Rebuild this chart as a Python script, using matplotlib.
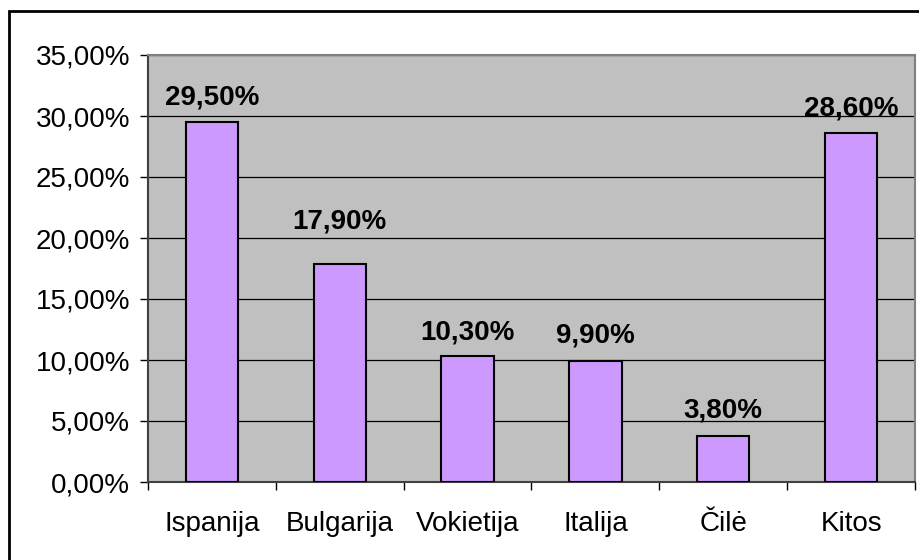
import matplotlib
matplotlib.use("Agg")
import matplotlib.pyplot as plt
from matplotlib.patches import Rectangle
from matplotlib.ticker import FuncFormatter, FixedLocator
import numpy as np

countries = ["Ispanija", "Bulgarija", "Vokietija", "Italija", "Čilė", "Kitos"]
shares = [29.5, 17.9, 10.3, 9.9, 3.8, 28.6]
y_ticks = [0, 5, 10, 15, 20, 25, 30, 35]

plt.rcParams['font.family'] = ['Liberation Sans', 'DejaVu Sans']

fig = plt.figure(figsize=(9.2, 5.6), dpi=100)
ax = fig.add_axes([148 / 920, 1 - 482 / 560, (915 - 148) / 920, (482 - 55) / 560])

ax.set_facecolor('#C0C0C0')
x = np.arange(len(countries))
ax.set_axisbelow(True)
ax.grid(True, axis='y', color='black', linewidth=0.9)
ax.bar(x, shares, width=0.41, color='#CC99FF', edgecolor='black', linewidth=1.5, zorder=3)

# the Bulgarija label sits a bit higher in the original
label_offsets = [8, 21, 8, 9, 9, 8]
for xi, v, off in zip(x, shares, label_offsets):
    ax.annotate(f"{v:.2f}%".replace('.', ','), (xi, v), xytext=(0, off), textcoords='offset points',
                ha='center', va='bottom', fontsize=20, fontweight='bold')

ax.set_xlim(-0.5, len(countries) - 0.5)
ax.set_ylim(0, 35)
ax.set_yticks(y_ticks)
ax.yaxis.set_major_formatter(FuncFormatter(lambda v, p: f"{v:.2f}%".replace('.', ',')))
ax.set_xticks(x)
ax.set_xticklabels(countries)
ax.xaxis.set_minor_locator(FixedLocator(np.arange(-0.5, len(countries), 1.0)))
ax.tick_params(axis='x', which='major', length=0, pad=21, labelsize=20)
ax.tick_params(axis='x', which='minor', length=6, width=1, direction='out', color='black')
ax.tick_params(axis='y', length=6, width=1, direction='out', pad=7, labelsize=20, color='black')

for side in ['top', 'right']:
    ax.spines[side].set_color('#808080')
    ax.spines[side].set_linewidth(1.5)
for side in ['left', 'bottom']:
    ax.spines[side].set_color('#404040')
    ax.spines[side].set_linewidth(1.5)

# outer chart border
fig.add_artist(Rectangle((9 / 920, -0.1), 2, 1 - 11 / 560 + 0.1, transform=fig.transFigure,
                         fill=False, edgecolor='black', linewidth=2))

fig.savefig("out.png", dpi=100)
